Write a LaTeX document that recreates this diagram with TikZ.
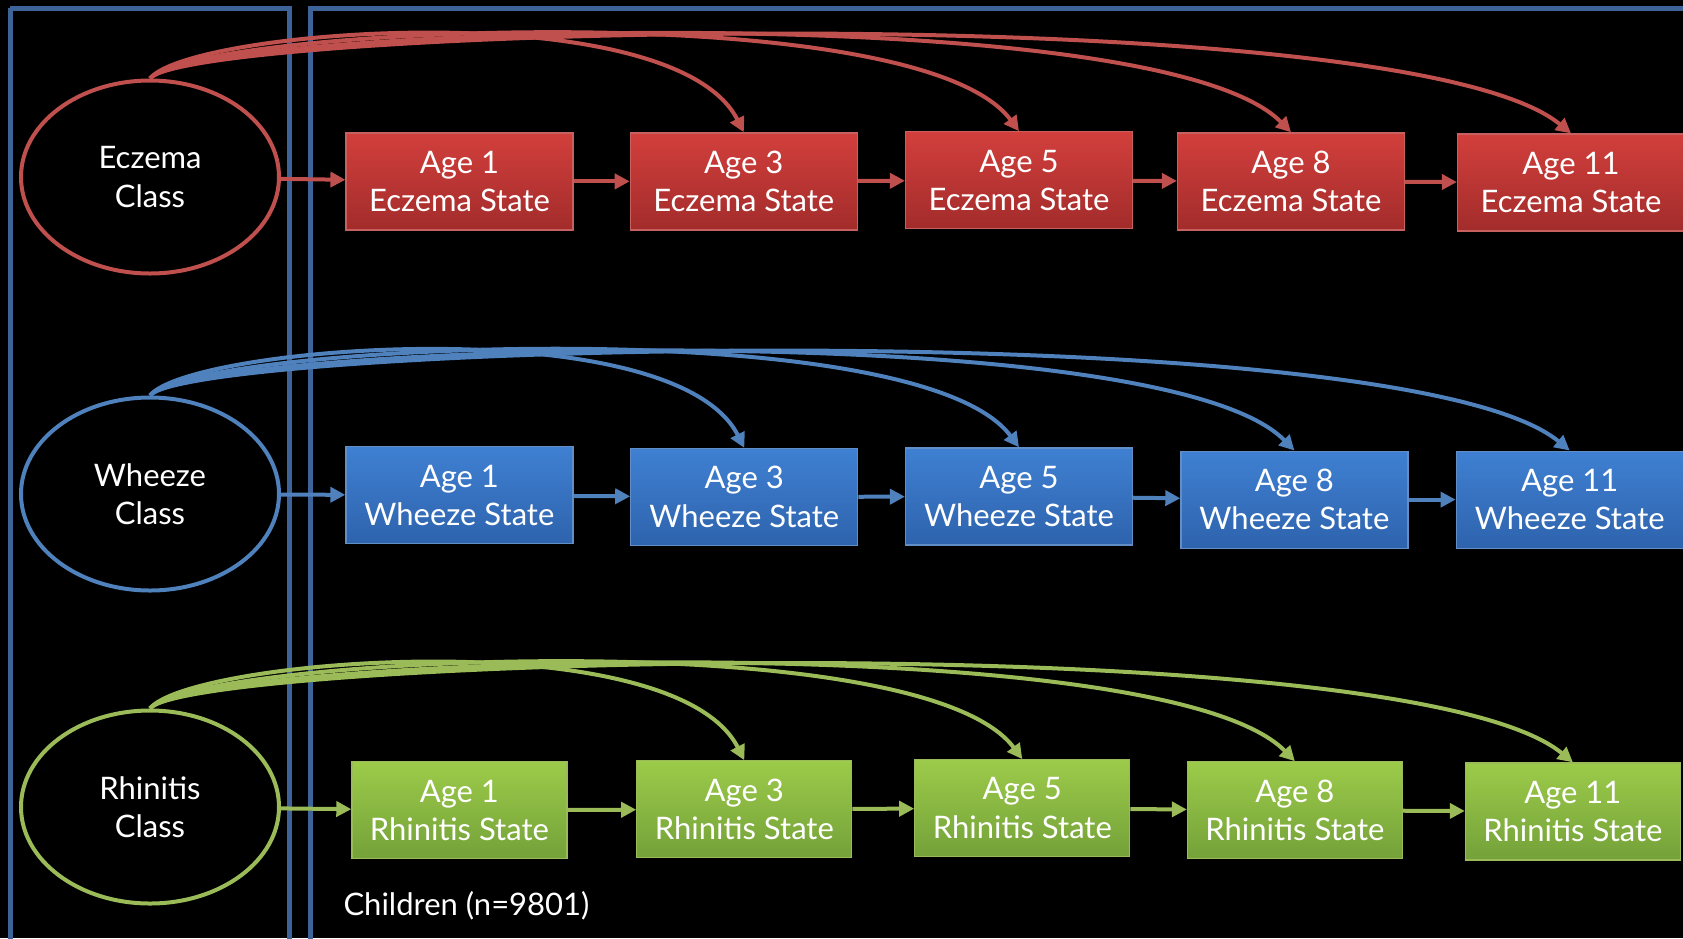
\documentclass[tikz,border=0pt]{standalone}
\usepackage{fontspec}
\setmainfont{Lato}
\usetikzlibrary{arrows.meta,shapes.geometric}

\definecolor{framecol}{HTML}{3D6399}
\definecolor{ecol}{HTML}{C0504D}
\definecolor{wcol}{HTML}{4F81BD}
\definecolor{rcol}{HTML}{9BBB59}
\definecolor{etop}{HTML}{D23F3C}
\definecolor{ebot}{HTML}{A22C2B}
\definecolor{wtop}{HTML}{3F80D2}
\definecolor{wbot}{HTML}{2E63AD}
\definecolor{rtop}{HTML}{9CCB4A}
\definecolor{rbot}{HTML}{74A139}

\tikzset{
  txt/.style={text=white, align=center, font=\fontsize{31}{38.5}\selectfont},
  classnode/.style={txt, ellipse, draw=#1, line width=4pt, fill=black,
    minimum width=258pt, minimum height=193pt, inner sep=0pt},
  statebox/.style={txt, rectangle, inner sep=0pt, minimum height=97pt,
    line width=1.2pt},
  ebox/.style={statebox, draw=ecol!90!white, top color=etop, bottom color=ebot, minimum width=227pt},
  wbox/.style={statebox, draw=wcol!90!white, top color=wtop, bottom color=wbot, minimum width=227pt},
  rbox/.style={statebox, draw=rcol, top color=rtop, bottom color=rbot, minimum width=215pt},
  link/.style={draw=#1, line width=4pt, -{Triangle[length=15pt,width=15pt]}},
  frame/.style={draw=framecol, line width=5pt}
}

\begin{document}
\begin{tikzpicture}[x=1pt, y=-1pt]
  % canvas
  \fill[black] (0,0) rectangle (1683,938);
  \path[use as bounding box] (0,0) rectangle (1683,938);
  \clip (0,0) rectangle (1683,938);

  % panels
  \draw[frame] (10,8) -- (289,8) -- (289,960) (10,960) -- (10,8);
  \draw[frame] (310,960) -- (310,8) -- (1720,8);

  % latent classes
  \node[classnode=ecol] (ec) at (150,177) {Eczema\\Class};
  \node[classnode=wcol] (wc) at (150,494) {Wheeze\\Class};
  \node[classnode=rcol] (rc) at (150,807) {Rhinitis\\Class};

  % eczema states
  \node[ebox] (e1) at (459.5,181.4) {Age 1\\Eczema State};
  \node[ebox] (e2) at (743.8,181.4) {Age 3\\Eczema State};
  \node[ebox] (e3) at (1019,180.3) {Age 5\\Eczema State};
  \node[ebox] (e4) at (1291,181.4) {Age 8\\Eczema State};
  \node[ebox] (e5) at (1571,182.5) {Age 11\\Eczema State};

  % wheeze states
  \node[wbox] (w1) at (459.4,495.3) {Age 1\\Wheeze State};
  \node[wbox] (w2) at (744.3,497) {Age 3\\Wheeze State};
  \node[wbox] (w3) at (1019,496.4) {Age 5\\Wheeze State};
  \node[wbox] (w4) at (1294.4,499.6) {Age 8\\Wheeze State};
  \node[wbox] (w5) at (1569.7,499.6) {Age 11\\Wheeze State};

  % rhinitis states
  \node[rbox] (r1) at (459.4,810.3) {Age 1\\Rhinitis State};
  \node[rbox] (r2) at (744.3,809.3) {Age 3\\Rhinitis State};
  \node[rbox] (r3) at (1022.3,808.2) {Age 5\\Rhinitis State};
  \node[rbox] (r4) at (1294.9,810.3) {Age 8\\Rhinitis State};
  \node[rbox] (r5) at (1572.9,811.4) {Age 11\\Rhinitis State};

  % chains: class -> age 1 -> age 3 -> ... and class -> later ages
  \foreach \r/\c in {e/ecol, w/wcol, r/rcol} {
    \draw[link=\c] (\r c) -- (\r1);
    \foreach \i/\j in {1/2, 2/3, 3/4, 4/5}
      \draw[link=\c] (\r\i) -- (\r\j);
    \foreach \i/\b in {2/71, 3/104, 4/137, 5/170}
      \draw[link=\c] (\r c.north) .. controls +(40,-50) and +(-\b,-140) .. (\r\i.north);
  }

  \node[txt, anchor=base west] (caption) at (340,915) {Children (n=9801)};
\end{tikzpicture}
\end{document}
